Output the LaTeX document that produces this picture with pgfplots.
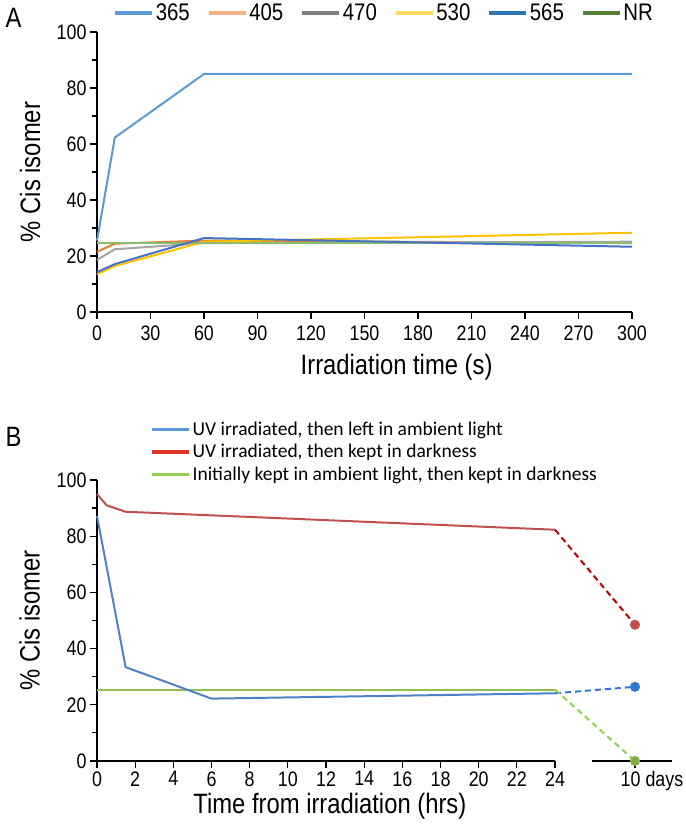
\documentclass[border=0pt]{standalone}
\usepackage{pgfplots}
\pgfplotsset{compat=1.18}
\usepackage{fontspec}
\setmainfont{Liberation Sans}[FakeStretch=0.85]
\newfontfamily\calib{Carlito}
\definecolor{c365}{HTML}{5B9BD5}
\definecolor{c405}{HTML}{F4B183}
\definecolor{c405l}{HTML}{ED7D31}
\definecolor{c470}{HTML}{A5A5A5}
\definecolor{c470g}{HTML}{808080}
\definecolor{c530}{HTML}{FFC000}
\definecolor{c530g}{HTML}{FFD966}
\definecolor{c565}{HTML}{4472C4}
\definecolor{c565g}{HTML}{2E75B6}
\definecolor{cnr}{HTML}{70AD47}
\definecolor{cnrg}{HTML}{548235}
\definecolor{bblue}{HTML}{4F81C6}
\definecolor{bblued}{HTML}{2F7AD0}
\definecolor{bred}{HTML}{C0504D}
\definecolor{bredd}{HTML}{C00000}
\definecolor{bgreen}{HTML}{92C050}
\definecolor{bgreend}{HTML}{92D050}
\definecolor{legblue}{HTML}{5B9BD5}
\definecolor{legred}{HTML}{E03427}
\definecolor{leggreen}{HTML}{92D050}
\pgfplotsset{
  common/.style={
    scale only axis,
    axis x line*=bottom, axis y line*=left,
    axis line style={-, line width=1.4pt, black},
    tick align=outside,
    major tick length=7pt, minor tick length=5pt,
    every tick/.style={black, line width=1.2pt},
    /pgf/number format/assume math mode=true,
    tick label style={font=\fontsize{21}{21}\selectfont},
    label style={font=\fontsize{28}{28}\selectfont},
    clip=false,
    legend image code/.code={\draw[#1, line width=3.5pt] (0pt,0pt) -- (37pt,0pt);},
  }
}
\begin{document}
\begin{tikzpicture}[x=1pt,y=1pt]
\path[use as bounding box] (0,0) rectangle (685,832);
\node[anchor=west, font=\fontsize{28}{28}\selectfont] at (2,814) {A};
\node[anchor=west, font=\fontsize{28}{28}\selectfont] at (2,395) {B};
% ---------------- Panel A
\begin{axis}[common,
  at={(97pt,520pt)}, anchor=south west,
  width=535pt, height=280pt,
  xmin=0, xmax=300, ymin=0, ymax=100,
  xtick={0,30,...,300}, ytick={0,20,...,100},
  minor ytick={10,30,50,70,90},
  xticklabel style={yshift=-3pt},
  ylabel={\% Cis isomer},
  ylabel style={at={(axis description cs:-0.125,0.5)}, anchor=center},
  xlabel={Irradiation time (s)},
  xlabel style={at={(axis description cs:0.56,-0.197)}, anchor=center},
  legend columns=6,
  legend style={at={(axis description cs:0.030,1.068)}, anchor=west,
    draw=none, fill=none, inner sep=0pt,
    font=\fontsize{24}{24}\selectfont,
    /tikz/every even column/.append style={column sep=15pt}},
]
\addlegendimage{c365}\addlegendentry{365}
\addlegendimage{c405}\addlegendentry{405}
\addlegendimage{c470g}\addlegendentry{470}
\addlegendimage{c530g}\addlegendentry{530}
\addlegendimage{c565g}\addlegendentry{565}
\addlegendimage{cnrg}\addlegendentry{NR}
\addplot[c405l, line width=2pt, forget plot] coordinates {(0,21.5) (10,24.4) (60,25.5) (300,24.6)};
\addplot[c470, line width=2pt, forget plot] coordinates {(0,18.6) (10,22.4) (60,24.6) (300,25.1)};
\addplot[c530, line width=2pt, forget plot] coordinates {(0,13.5) (10,16.4) (60,25.1) (300,28.3)};
\addplot[cnr!80, line width=2pt, forget plot] coordinates {(0,24.6) (300,24.6)};
\addplot[c565, line width=2pt, forget plot] coordinates {(0,14.2) (10,17.1) (60,26.4) (300,23.3)};
\addplot[c365, line width=2pt, forget plot] coordinates {(0,25.5) (10,62.3) (60,85) (300,85)};
\end{axis}
% ---------------- Panel B
\begin{axis}[common,
  at={(97pt,71pt)}, anchor=south west,
  width=575pt, height=281pt,
  xmin=0, xmax=30.13, ymin=0, ymax=100,
  x axis line style={draw=none},
  xtick={0,2,...,24}, ytick={0,20,...,100},
  minor ytick={10,30,50,70,90},
  extra x ticks={28.19}, extra x tick labels={10 days},
  extra x tick style={xticklabel style={xshift=17pt}},
  ylabel={\% Cis isomer},
  ylabel style={at={(axis description cs:-0.117,0.5)}, anchor=center},
  xlabel={Time from irradiation (hrs)},
  xlabel style={at={(axis description cs:0.405,-0.162)}, anchor=center},
  legend style={at={(axis description cs:0.092,1.1)}, anchor=west,
    draw=none, fill=none, inner sep=0pt, row sep=3.5pt,
    font=\calib\fontsize{19.5}{19.5}\selectfont},
  legend cell align=left,
]
\addlegendimage{legblue}\addlegendentry{UV irradiated, then left in ambient light}
\addlegendimage{legred}\addlegendentry{UV irradiated, then kept in darkness}
\addlegendimage{leggreen}\addlegendentry{Initially kept in ambient light, then kept in darkness}
\draw[line width=1.4pt] (axis cs:0,0) -- (axis cs:24,0);
\draw[line width=1.4pt] (axis cs:25.96,0) -- (axis cs:30.13,0);
\addplot[bgreen, line width=2pt, forget plot] coordinates {(0,25.4) (24,25.4)};
\addplot[bred, line width=2pt, forget plot] coordinates {(0,95) (0.5,91) (1.5,88.7) (24,82.3)};
\addplot[bblue, line width=2pt, forget plot] coordinates {(0,87.2) (1.5,33.4) (6,22.2) (24,24.1)};
\addplot[bredd, line width=2pt, dash pattern=on 6pt off 4pt, forget plot,
  mark=*, mark size=4pt, mark indices={2}, mark options={solid, fill=bred, draw=bred}]
  coordinates {(24,82.3) (28.19,48.5)};
\addplot[bblued, line width=2pt, dash pattern=on 6pt off 4pt, forget plot,
  mark=*, mark size=4pt, mark indices={2}, mark options={solid, fill=bblued, draw=bblued}]
  coordinates {(24,24.1) (28.19,26.4)};
\addplot[bgreend, line width=2pt, dash pattern=on 6pt off 4pt, forget plot,
  mark=*, mark size=4pt, mark indices={2}, mark options={solid, fill=bgreen!90!black, draw=bgreen!90!black}]
  coordinates {(24,25.4) (28.19,0)};
\end{axis}
\end{tikzpicture}
\end{document}
